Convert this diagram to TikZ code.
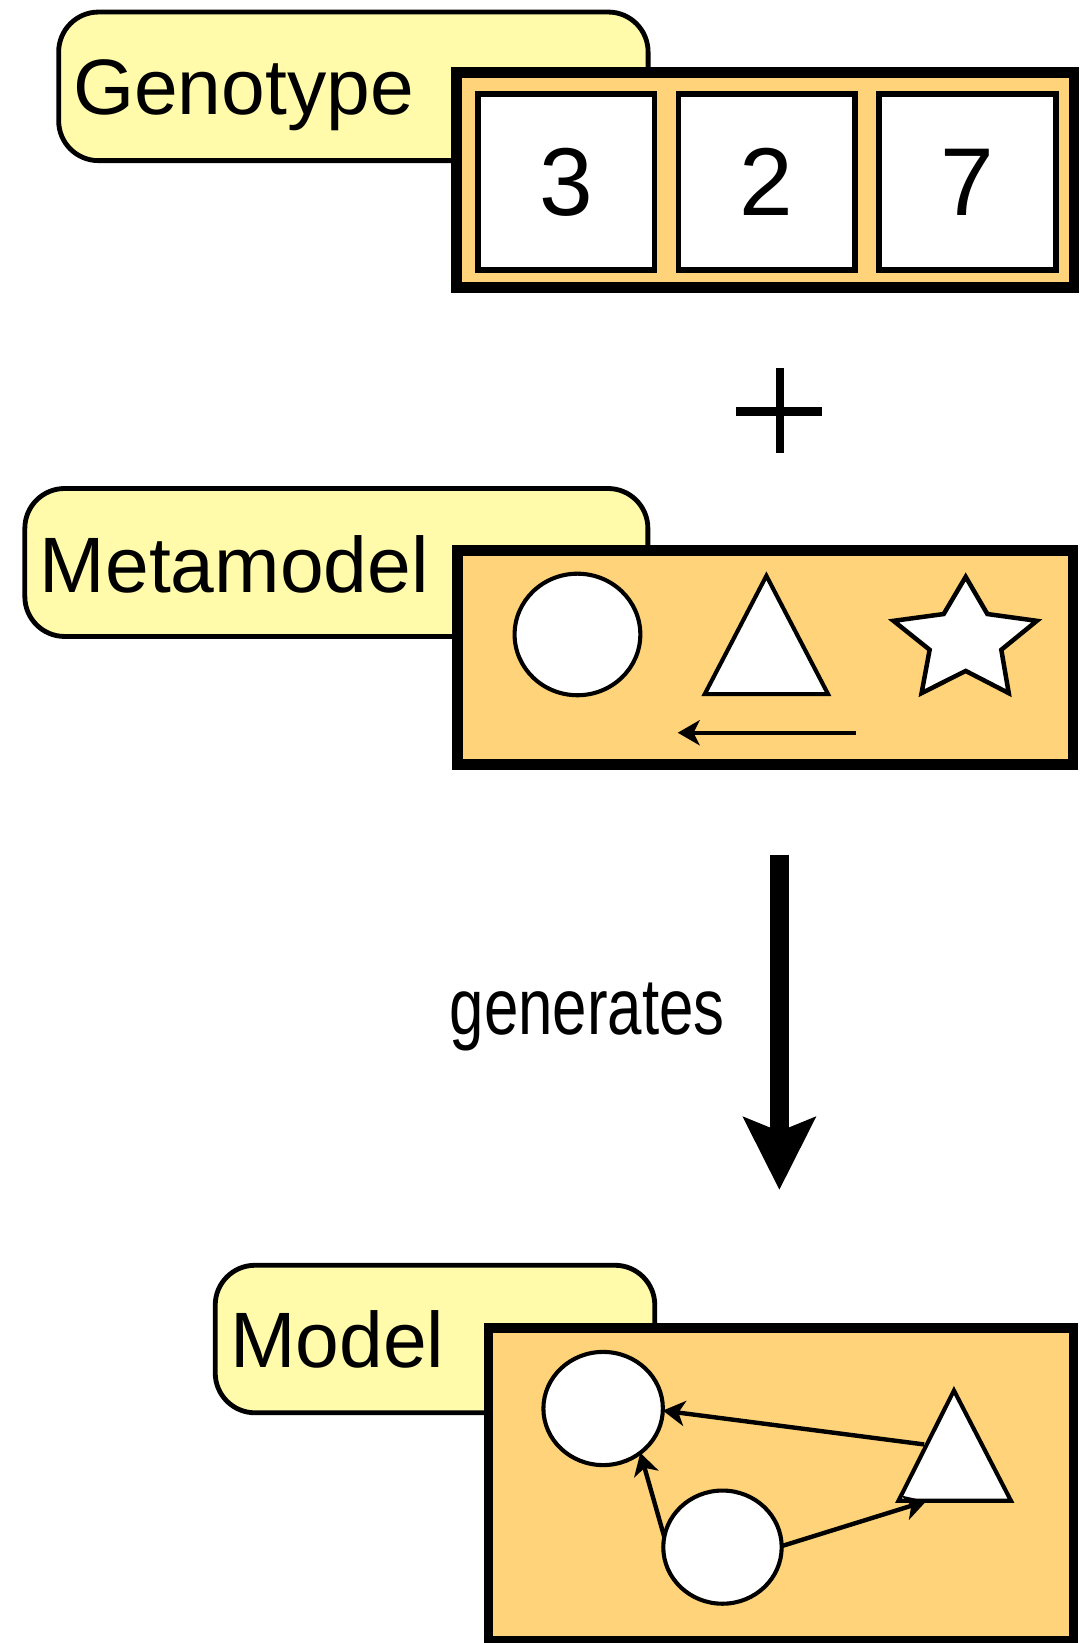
\documentclass[tikz,border=0pt]{standalone}
\usepackage{fontspec}
\setmainfont{Liberation Sans}
\usepackage{graphicx}
\usetikzlibrary{arrows.meta,shapes.geometric,calc}
\definecolor{boxorange}{RGB}{254,211,121}
\definecolor{labelyellow}{RGB}{255,251,170}
\begin{document}
\begin{tikzpicture}[x=1pt,y=-1pt,
  labelbox/.style={draw=black, fill=labelyellow, line width=4.6pt, rounded corners=38pt},
  bigbox/.style={draw=black, fill=boxorange, line width=10.3pt, line join=miter},
  cellbox/.style={draw=black, fill=white, line width=5.4pt},
  shapeline/.style={draw=black, fill=white, line width=3.9pt, line join=miter},
  blob/.style={ellipse, draw=black, fill=white, line width=3.9pt, inner sep=0pt, outer sep=0pt},
  labeltext/.style={anchor=base west, inner sep=0pt, font=\fontsize{75}{80}\selectfont},
  digitnode/.style={inner sep=0pt, font=\fontsize{92}{96}\selectfont},
  link/.style={-{Stealth[length=21pt,width=24pt,inset=6pt]}, line width=4.2pt},
]
\useasboundingbox (0,0) rectangle (1038,1568);
\fill[white] (0,0) rectangle (1038,1568);

% ---------- Genotype ----------
\draw[labelbox] (56,11.5) rectangle (618.5,153.3);
\node[labeltext] (genlabel) at (69.6,109.7) {Genotype};
\draw[bigbox] (436,69.5) rectangle (1025,274.5);
\draw[cellbox] (456,89.9) rectangle (624.5,257.4);
\draw[cellbox] (647.5,89.9) rectangle (816,257.4);
\draw[cellbox] (839,89.9) rectangle (1007.5,257.4);
\node[digitnode] (d1) at (540.2,173.7) {3};
\node[digitnode] (d2) at (731.7,173.7) {2};
\node[digitnode] (d3) at (923.2,173.7) {7};

% ---------- plus ----------
\draw[line width=7.9pt] (744.3,351.4) -- (744.3,432.5);
\draw[line width=8.6pt] (702.8,392.3) -- (784.9,392.3);

% ---------- Metamodel ----------
\draw[labelbox] (23.7,466.2) rectangle (618.3,607.4);
\node[labeltext] (metalabel) at (37.9,565.4) {Metamodel};
\draw[bigbox] (436.6,525) rectangle (1024,729.8);
\node[blob, minimum width=120pt, minimum height=116pt] (mmcirc) at (551.1,605.5) {};
\draw[shapeline] (731.4,549.5) -- (672.5,662.5) -- (790.3,662.5) -- cycle;
\draw[shapeline, line width=4.3pt] (921.6,550.5) -- (942.3,586) -- (989.5,592.5) -- (955.6,620.1)
  -- (962.7,661.5) -- (921.6,640.3) -- (879.5,661.5) -- (887.2,620.1)
  -- (852.7,592.5) -- (900.6,586) -- cycle;
\coordinate (mmaS) at (817,699.3);
\coordinate (mmaE) at (646.8,699.3);
\draw[link] (mmaS) -- (mmaE);

% ---------- generates arrow ----------
\coordinate (gtop) at (743.8,815.7);
\coordinate (gtip) at (743.8,1135.3);
\draw[line width=18.4pt] (gtop) -- ($(gtip)+(0,-52)$);
\fill (gtip) -- ++(-35.3,-70) -- ++(35.3,14.4) -- ++(35.3,-14.4) -- cycle;
\node[anchor=base west, inner sep=0pt, font=\fontsize{59}{64}\selectfont] (gen) at (429,986.8)
  {\scalebox{1}[1.29]{generates}};

% ---------- Model ----------
\draw[labelbox] (205.4,1207.5) rectangle (624.9,1348.3);
\node[labeltext] (modlabel) at (219.6,1305.4) {Model};
\draw[bigbox, line width=9pt] (466.2,1267.2) rectangle (1024.5,1566);
\node[blob, minimum width=114pt, minimum height=108pt] (mc1) at (575.6,1344.2) {};
\node[blob, minimum width=113pt, minimum height=108pt] (mc2) at (689.5,1476.5) {};
\coordinate (mtA) at (910.4,1327);
\coordinate (mtL) at (857.5,1432.2);
\coordinate (mtR) at (964.8,1432.2);
\draw[shapeline] (mtA) -- (mtL) -- (mtR) -- cycle;
\coordinate (mtSide) at (882,1378.5);
\coordinate (mtBase) at (884,1432.6);
\draw[link] (mtSide) -- (mc1.-2);
\draw[link] (mc2.170) -- (mc1.-50);
\draw[link] (mc2.1) -- (mtBase);
\end{tikzpicture}
\end{document}
